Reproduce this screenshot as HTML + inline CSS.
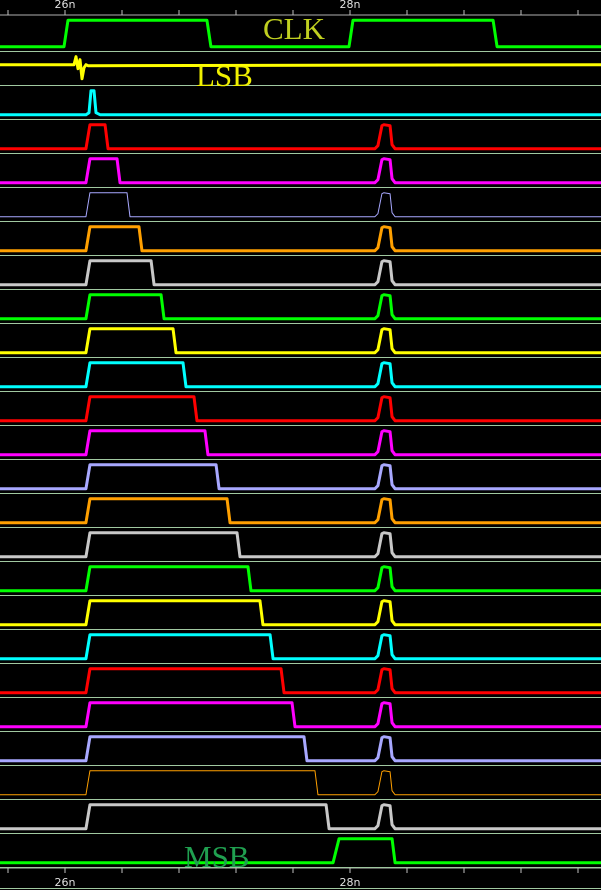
<!DOCTYPE html>
<html><head><meta charset="utf-8"><style>
html,body{margin:0;padding:0;background:#000;}
svg{display:block;}
</style></head><body>
<svg id="chart" width="601" height="890" viewBox="0 0 601 890" xmlns="http://www.w3.org/2000/svg">
<rect width="601" height="890" fill="#000"/>
<g id="axes"></g><g id="rows"></g>
<text x="263" y="39" font-family="Liberation Serif, serif" font-size="31" fill="#c0d020">CLK</text>
<text x="196" y="86" font-family="Liberation Serif, serif" font-size="31" fill="#f0f000">LSB</text>
<text x="184" y="867" font-family="Liberation Serif, serif" font-size="31" fill="#20a050">MSB</text>
</svg>
<script>
const tickValues=[25.6,26.0,26.4,26.8,27.2,27.6,28.0,28.4,28.8,29.2,29.6];
const tickLabels={"26":"26n","28":"28n"};
const clkEdges=[26.007,27.01,28.007,29.018];
const pulseRise=[26.161,26.161,26.161,26.161,26.161,26.161,26.161,26.161,26.161,26.161,26.161,26.161,26.161,26.161,26.161,26.161,26.161,26.161,26.161,26.161,26.161];
const pulseFall=[26.281,26.365,26.435,26.519,26.604,26.674,26.758,26.828,26.905,26.982,27.060,27.137,27.207,27.284,27.368,27.439,27.516,27.593,27.677,27.754,27.832];
const secondRise=28.21, secondFall=28.295;
const msbRise=27.895, msbFall=28.295;
const colors=["#ffff00","#00ffff","#ff0000","#ff00ff","#a8a8ff","#ffa000","#c8c8c8","#00ff00"];
const NS="http://www.w3.org/2000/svg";
const X=t=>65+(t-26)*142.5;
const ROW0=16.7, RH=34;
const svg=document.getElementById('chart');
const axes=document.getElementById('axes'), rows=document.getElementById('rows');
function mk(tag,at,parent){const e=document.createElementNS(NS,tag);for(const k in at)e.setAttribute(k,at[k]);parent.appendChild(e);return e;}
// axes
[[15,-1,8],[868,1,882]].forEach(([ly,dir,tyOff],ai)=>{
  const l=mk('line',{x1:0,x2:601,y1:ly,y2:ly,stroke:'#b0b0b0','stroke-width':1},axes);
  
  
  tickValues.forEach(v=>{
    const x=X(v);
    const t=mk('line',{x1:x,x2:x,y1:ly,y2:ly+dir*5,stroke:'#c0c0c0','stroke-width':1},axes);
    
    
    const key=String(Math.round(v*10)/10);
    if(tickLabels[key]){
      const tx=mk('text',{x:x,y:ai?886:8,'text-anchor':'middle','font-family':'DejaVu Sans, sans-serif','font-size':11,fill:'#e0e0e0'},axes);
      tx.textContent=tickLabels[key];
      
      
    }
  });
});
mk('line',{x1:0,x2:601,y1:888.5,y2:888.5,stroke:'#a0c8a0','stroke-width':1},axes);
// separators
for(let i=1;i<=25;i++){
  const y=Math.round(ROW0+i*RH)+0.5;
  const s=mk('line',{x1:0,x2:601,y1:y,y2:y,stroke:'#a0c8a0','stroke-width':1},rows);
  
  
}
function path(d,color,w,name){
  const p=mk('path',{d:d,fill:'none',stroke:color,'stroke-width':w,'stroke-linejoin':'round'},rows);
  
  
}
function pulse(top,rise,fall){
  const lo=top+30,hi=top+6;
  const xr=X(rise),xf=X(fall);
  return `L${xr-2},${lo} L${xr+2},${hi} L${xf},${hi} L${xf+3},${lo}`;
}
function bump(top){
  const lo=top+30,hi=top+6,xr=X(secondRise),xf=X(secondFall);
  return `L${xr-5},${lo} L${xr-2},${lo-3} L${xr+2},${hi+1} L${xr+4},${hi} L${xf-2},${hi+1} L${xf},${lo-4} L${xf+3},${lo}`;
}
// CLK
{
  const top=ROW0, lo=top+30, hi=top+3.5;
  let d=`M0,${lo}`, level=lo;
  clkEdges.forEach(t=>{const x=X(t);const nl=level===lo?hi:lo;d+=` L${x-2},${level} L${x+2},${nl}`;level=nl;});
  d+=` L601,${level}`;
  path(d,'#00ff00',3,'clk-trace');
}
// LSB (row 1)
{
  const top=ROW0+RH, y=top+14;
  const d=`M0,${y} L74,${y} L76,${y-8} L78,${y+4} L80,${y-5} L82,${y+14} L84,${y+3} L86,${y} L88,${y+1} L601,${y}`;
  path(d,colors[0],3,'bit-1-lsb-trace');
}
// cyan glitch (row 2)
{
  const top=ROW0+2*RH, lo=top+30;
  const d=`M0,${lo} L86,${lo} L89,${lo-2} L91,${lo-24} L94,${lo-24} L96,${lo-2} L100,${lo} L601,${lo}`;
  path(d,colors[1],3,'bit-2-trace');
}
// bits 3..23
pulseFall.forEach((f,i)=>{
  const r=i+3, top=ROW0+r*RH, lo=top+30;
  const color=colors[(r-1)%8];
  const thin=(r===5||r===22);
  const d=`M0,${lo} `+pulse(top,pulseRise[i],f)+' '+bump(top)+` L601,${lo}`;
  path(d,color,thin?1:3,'bit-'+(r)+'-trace');
});
// MSB (row 24)
{
  const top=ROW0+24*RH, lo=top+30, hi=top+6;
  const d=`M0,${lo} L${X(msbRise)-2},${lo} L${X(msbRise)+4},${hi} L${X(msbFall)},${hi} L${X(msbFall)+3},${lo} L601,${lo}`;
  path(d,colors[7],3,'bit-msb-trace');
}
</script>
</body></html>
